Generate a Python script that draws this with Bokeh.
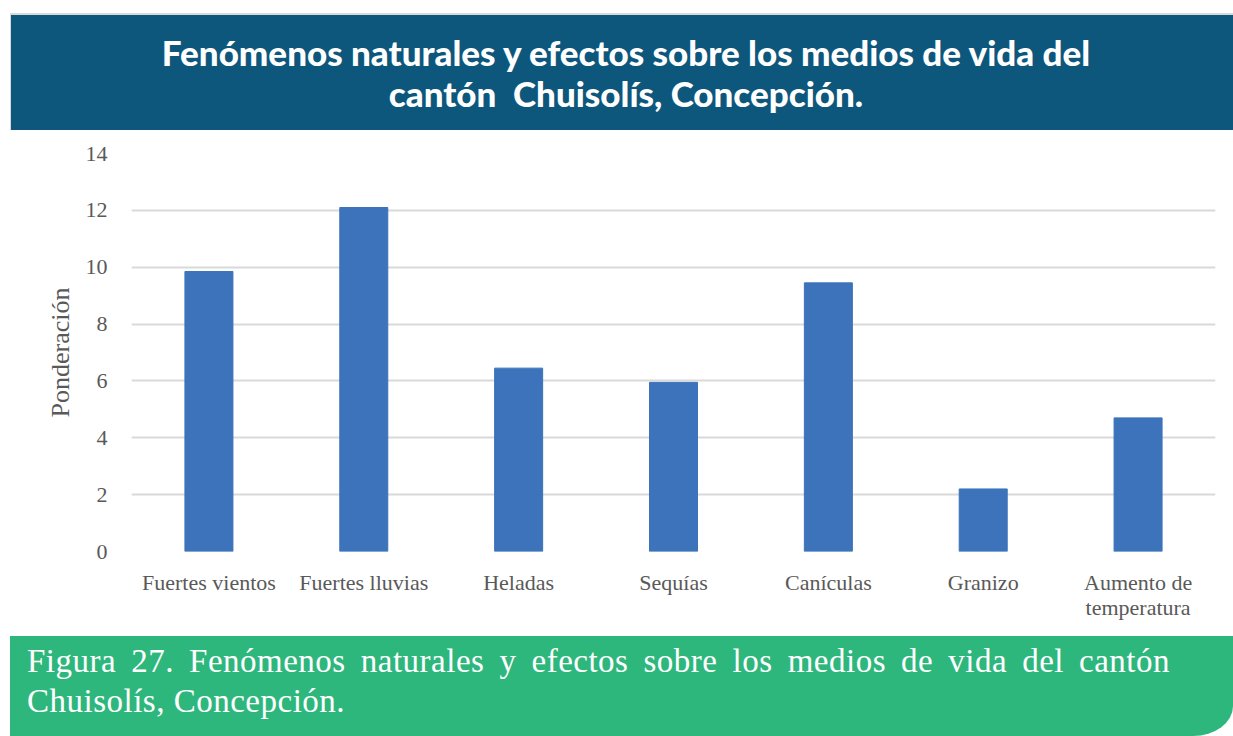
from bokeh.plotting import figure
from bokeh.models import Div, FactorRange, Range1d, FixedTicker, ColumnDataSource
from bokeh.layouts import column
from bokeh.embed import file_html
from bokeh.resources import INLINE

categories = ["Fuertes vientos", "Fuertes lluvias", "Heladas", "Sequías",
              "Canículas", "Granizo", "Aumento de\ntemperatura"]
values = [9.85, 12.1, 6.45, 5.95, 9.45, 2.2, 4.7]
y_ticks = [0, 2, 4, 6, 8, 10, 12, 14]

title_line1 = "Fenómenos naturales y efectos sobre los medios de vida del"
title_line2 = "cantón&nbsp; Chuisolís, Concepción."
caption = "Figura 27. Fenómenos naturales y efectos sobre los medios de vida del cantón Chuisolís, Concepción."
y_label = "Ponderación"

BLUE_BAND = "#0E577C"
GREEN_BAND = "#2EB77D"
BAR = "#3C73BA"
GRID = "#D9D9D9"
TEXT = "#595959"

W = 1233

title_html = f"""<div style="position:relative;width:{W}px;height:130px;background:white;margin:0;padding:0;">
<div style="position:absolute;left:10px;top:13px;width:{W-10}px;height:2px;background:#d9d9d9;"></div>
<div style="position:absolute;left:10px;top:13px;width:2px;height:117px;background:#d9d9d9;"></div>
<div style="position:absolute;left:11px;top:15px;width:{W-11}px;height:115px;background:{BLUE_BAND};color:white;font-family:Lato,'Open Sans',sans-serif;font-weight:900;font-size:35px;line-height:41px;text-align:center;padding-top:17px;padding-left:8px;box-sizing:border-box;">{title_line1}<br>{title_line2}</div>
</div>"""
title_div = Div(text=title_html, width=W, height=130, margin=0)

caption_html = f"""<div style="position:relative;width:{W}px;height:100px;margin:0;">
<div style="position:absolute;left:10px;top:0;width:{W-10}px;height:100px;background:{GREEN_BAND};color:white;font-family:'Liberation Serif',serif;font-size:33px;letter-spacing:0.5px;line-height:40px;text-align:justify;padding:5px 63px 0 17px;box-sizing:border-box;border-bottom-right-radius:40px 30px;">{caption}</div>
</div>"""
caption_div = Div(text=caption_html, width=W, height=100, margin=0)

src = ColumnDataSource(data=dict(cat=categories, val=values))

p = figure(x_range=FactorRange(*categories, range_padding=0), y_range=Range1d(0, 14),
           width=W, height=506, output_backend="svg", toolbar_location=None,
           min_border_left=131, min_border_right=18, min_border_top=23, min_border_bottom=85,
           margin=0)
p.vbar(x="cat", top="val", width=0.31, source=src, fill_color=BAR, line_color=BAR)

p.outline_line_color = None
p.xgrid.grid_line_color = None
p.ygrid.grid_line_color = GRID
p.ygrid.grid_line_width = 2
p.yaxis.ticker = FixedTicker(ticks=y_ticks)

for ax in (p.xaxis[0], p.yaxis[0]):
    ax.axis_line_color = None
    ax.major_tick_line_color = None
    ax.minor_tick_line_color = None
    ax.major_label_text_font = "Liberation Serif"
    ax.major_label_text_font_size = "22px"
    ax.major_label_text_color = TEXT

p.xaxis.major_label_text_line_height = 1.0
p.yaxis.major_label_standoff = 18
p.xaxis.major_label_standoff = 12
p.yaxis.axis_label = y_label
p.yaxis.axis_label_text_font = "Liberation Serif"
p.yaxis.axis_label_text_font_size = "26px"
p.yaxis.axis_label_text_font_style = "normal"
p.yaxis.axis_label_text_color = TEXT
p.yaxis.axis_label_standoff = 8

layout = column(title_div, p, caption_div, spacing=0, margin=0)

open("out.html", "w").write(file_html(layout, INLINE))
